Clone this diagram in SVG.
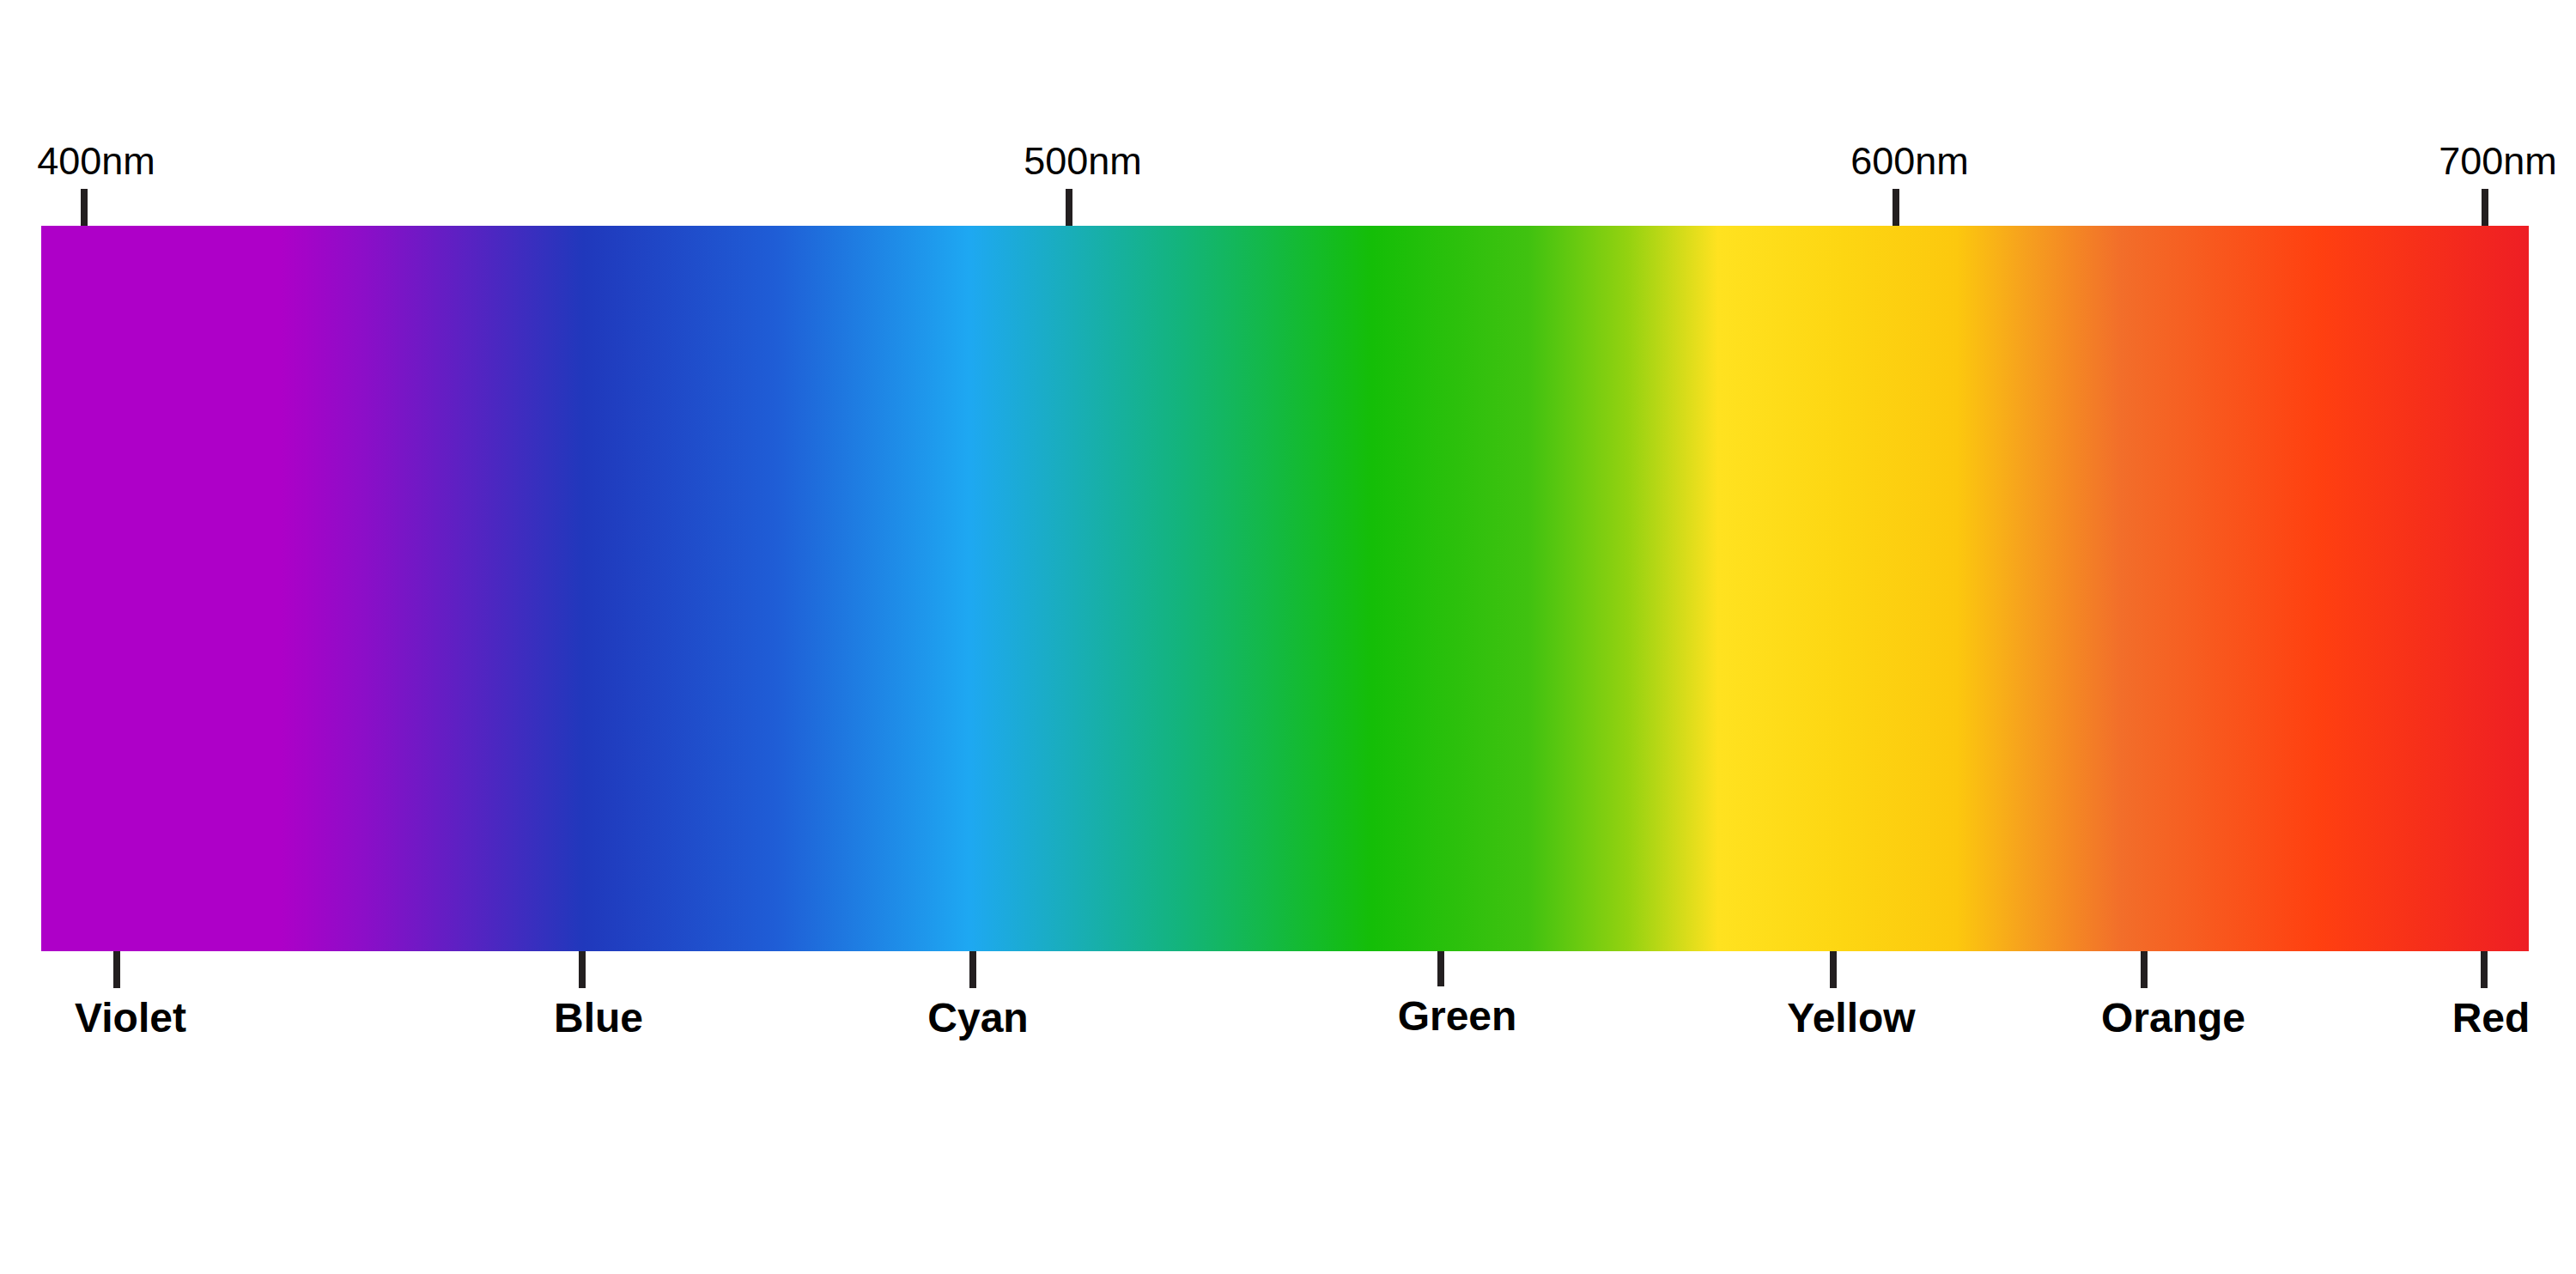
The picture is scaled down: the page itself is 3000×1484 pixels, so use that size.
<svg xmlns="http://www.w3.org/2000/svg" width="3000" height="1484" viewBox="0 0 3000 1484">
<defs>
<linearGradient id="spec" x1="0" y1="0" x2="1" y2="0">
<stop offset="0" stop-color="#AE00C8"/>
<stop offset="0.096" stop-color="#AE00C8"/>
<stop offset="0.13" stop-color="#8C0EC8"/>
<stop offset="0.218" stop-color="#2038BC"/>
<stop offset="0.295" stop-color="#1F5DD6"/>
<stop offset="0.373" stop-color="#1EA8F2"/>
<stop offset="0.459" stop-color="#13B47A"/>
<stop offset="0.535" stop-color="#14BE07"/>
<stop offset="0.598" stop-color="#40C210"/>
<stop offset="0.638" stop-color="#94D210"/>
<stop offset="0.674" stop-color="#FFE220"/>
<stop offset="0.724" stop-color="#FDD612"/>
<stop offset="0.770" stop-color="#FCC80E"/>
<stop offset="0.798" stop-color="#F6A01E"/>
<stop offset="0.836" stop-color="#F26E2A"/>
<stop offset="0.915" stop-color="#FF4010"/>
<stop offset="1" stop-color="#EE1E24"/>
</linearGradient>
<style>
.tick{fill:#231F20}
.nm{font-family:"Liberation Sans",Arial,sans-serif;font-size:45px;fill:#000;text-anchor:middle}
.lbl{font-family:"Liberation Sans",Arial,sans-serif;font-size:48px;font-weight:bold;fill:#000;text-anchor:middle}
</style>
</defs>
<rect x="0" y="0" width="3000" height="1484" fill="#fff"/>
<g id="spectrum"><rect x="48" y="263" width="2897" height="845" fill="url(#spec)"/></g>
<g id="connectors">
<rect class="tick" x="94" y="220" width="8" height="43"/>
<rect class="tick" x="1241" y="220" width="8" height="43"/>
<rect class="tick" x="2204" y="220" width="8" height="43"/>
<rect class="tick" x="2890" y="220" width="8" height="43"/>
<rect class="tick" x="132" y="1108" width="8" height="43"/>
<rect class="tick" x="674" y="1108" width="8" height="43"/>
<rect class="tick" x="1129" y="1108" width="8" height="43"/>
<rect class="tick" x="1674" y="1108" width="8" height="41"/>
<rect class="tick" x="2131" y="1108" width="8" height="43"/>
<rect class="tick" x="2493" y="1108" width="8" height="43"/>
<rect class="tick" x="2889" y="1108" width="8" height="43"/>
</g>
<g id="label-400"><text class="nm" x="112" y="203">400nm</text></g>
<g id="label-500"><text class="nm" x="1261" y="203">500nm</text></g>
<g id="label-600"><text class="nm" x="2224" y="203">600nm</text></g>
<g id="label-700"><text class="nm" x="2909" y="203">700nm</text></g>
<g id="label-violet"><text class="lbl" x="152" y="1202">Violet</text></g>
<g id="label-blue"><text class="lbl" x="697" y="1202">Blue</text></g>
<g id="label-cyan"><text class="lbl" x="1139" y="1202">Cyan</text></g>
<g id="label-green"><text class="lbl" x="1697" y="1200">Green</text></g>
<g id="label-yellow"><text class="lbl" x="2156" y="1202">Yellow</text></g>
<g id="label-orange"><text class="lbl" x="2531" y="1202">Orange</text></g>
<g id="label-red"><text class="lbl" x="2901" y="1202">Red</text></g>
</svg>
